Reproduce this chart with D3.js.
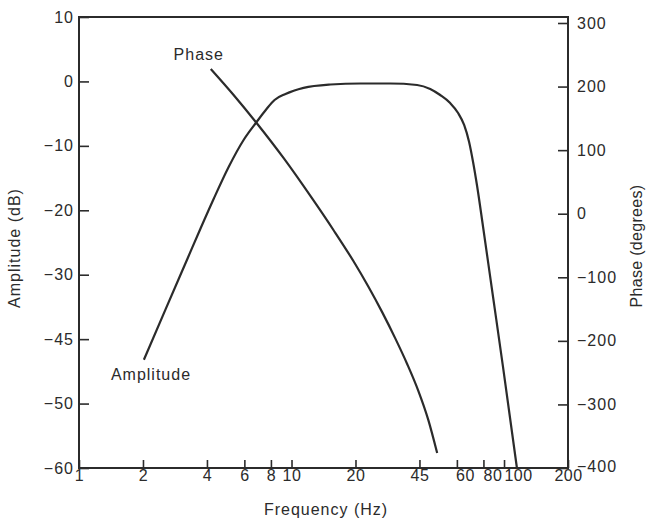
<!DOCTYPE html>
<html>
<head>
<meta charset="utf-8">
<script src="https://cdn.jsdelivr.net/npm/d3@7/dist/d3.min.js"></script>
<style>
  html, body { margin: 0; padding: 0; background: #fff; }
  svg { display: block; }
  text { font-family: "Liberation Sans", Arial, Helvetica, sans-serif; font-size: 16px; fill: #2b2b2b; letter-spacing: 1px; }
</style>
</head>
<body>
<svg id="chart" width="646" height="518"></svg>
<script>
// Frequency response of a band-pass filter: amplitude (left axis) and phase (right axis)

// Frequency ticks (Hz) and their printed labels
const freqTicks = [1, 2, 4, 6, 8, 10, 20, 40, 60, 80, 100, 200];
const freqTickLabels = ["1", "2", "4", "6", "8", "10", "20", "45", "60", "80", "100", "200"];

// Amplitude axis ticks (dB) and labels
const ampTicks = [-60, -50, -40, -30, -20, -10, 0, 10];
const ampTickLabels = ["\u221260", "\u221250", "\u221245", "\u221230", "\u221220", "\u221210", "0", "10"];

// Phase axis ticks (degrees) and labels
const phaseTicks = [-400, -300, -200, -100, 0, 100, 200, 300];
const phaseTickLabels = ["\u2212400", "\u2212300", "\u2212200", "\u2212100", "0", "100", "200", "300"];

// Amplitude curve (Hz, dB)
const ampFreq = [2.02, 2.56, 3.25, 3.74, 4.30, 5.06, 5.95, 6.85, 7.63, 8.32, 9.37, 11.4, 15.25, 21.1, 29.2, 39.0, 44.95, 50.07, 55.79, 60.8, 64.9, 68.5, 71.5, 74.7, 79.7, 88.8, 98.9, 115];
const ampDb   = [-43.2, -35.3, -27.4, -22.75, -18.25, -13.28, -9.09, -6.3, -4.28, -2.88, -1.95, -1.0, -0.48, -0.32, -0.32, -0.55, -1.17, -2.11, -3.35, -4.9, -6.76, -9.4, -12.5, -16.23, -22.59, -33.46, -44.3, -60];

// Phase curve (Hz, degrees)
const phaseFreq = [4.17, 5.34, 6.85, 9.17, 12.55, 15.75, 19.55, 22.98, 26.74, 30.78, 35.05, 39.47, 43.98, 48.46];
const phaseDeg  = [227.7, 186.8, 142.7, 87.7, 23.2, -25.6, -74.4, -114.5, -155.2, -196.1, -236.7, -278.2, -323.9, -376.4];

const svg = d3.select("#chart");
const ink = "#2b2b2b";

const plotLeft = 79, plotRight = 568, plotTop = 17, plotBottom = 468;

const x = d3.scaleLog().domain([1, 200]).range([plotLeft, plotRight]);
const yAmp = d3.scaleLinear().domain([-60, 10]).range([plotBottom, plotTop]);
const yPhase = d3.scaleLinear().domain([-400, 300]).range([plotBottom, plotTop + 6]);

// Plot frame
svg.append("rect")
  .attr("x", plotLeft).attr("y", plotTop)
  .attr("width", plotRight - plotLeft).attr("height", plotBottom - plotTop)
  .attr("fill", "none").attr("stroke", ink).attr("stroke-width", 2);

function styleAxis(g) {
  g.select(".domain").remove();
  g.selectAll(".tick line").attr("stroke", ink).attr("stroke-width", 1.6);
  g.selectAll(".tick text").attr("fill", ink).attr("font-size", null).attr("font-family", null);
}

// Bottom frequency axis, ticks pointing inward
const xAxisG = svg.append("g")
  .attr("transform", `translate(0,${plotBottom})`)
  .call(d3.axisBottom(x)
    .tickValues(freqTicks)
    .tickFormat((d, i) => freqTickLabels[i])
    .tickSizeInner(-8).tickSizeOuter(0).tickPadding(2))
  .call(styleAxis);

// The crowded labels at the top of the decade sit just right of their ticks
const crowdedNudge = { 60: 8, 80: 9, 100: 14 };
xAxisG.selectAll(".tick text")
  .style("letter-spacing", "0.5px")
  .attr("dx", d => crowdedNudge[d] || 0);

// Left amplitude axis
svg.append("g")
  .attr("transform", `translate(${plotLeft},0)`)
  .call(d3.axisLeft(yAmp)
    .tickValues(ampTicks)
    .tickFormat((d, i) => ampTickLabels[i])
    .tickSizeInner(-10).tickSizeOuter(0).tickPadding(5))
  .call(styleAxis);

// Right phase axis
const phaseAxisG = svg.append("g")
  .attr("transform", `translate(${plotRight},0)`)
  .call(d3.axisRight(yPhase)
    .tickValues(phaseTicks)
    .tickFormat((d, i) => phaseTickLabels[i])
    .tickSizeInner(-10).tickSizeOuter(0).tickPadding(9))
  .call(styleAxis);

// Lift the bottom phase label a little off the frequency labels
phaseAxisG.selectAll(".tick text")
  .filter(d => d === -400)
  .attr("y", -2);

// Curves
const ampLine = d3.line()
  .x((d, i) => x(ampFreq[i]))
  .y(d => yAmp(d))
  .curve(d3.curveMonotoneX);

const phaseLine = d3.line()
  .x((d, i) => x(phaseFreq[i]))
  .y(d => yPhase(d))
  .curve(d3.curveMonotoneX);

svg.append("path")
  .attr("d", ampLine(ampDb))
  .attr("fill", "none").attr("stroke", ink).attr("stroke-width", 2.2)
  .attr("stroke-linejoin", "round");

svg.append("path")
  .attr("d", phaseLine(phaseDeg))
  .attr("fill", "none").attr("stroke", ink).attr("stroke-width", 2.2)
  .attr("stroke-linejoin", "round");

// Curve labels near the start of each curve
svg.append("text")
  .attr("x", x(phaseFreq[0]) - 12)
  .attr("y", yPhase(phaseDeg[0]) - 9)
  .attr("text-anchor", "middle")
  .text("Phase");

svg.append("text")
  .attr("x", x(ampFreq[0]) - 33)
  .attr("y", yAmp(ampDb[0]) + 20)
  .text("Amplitude");

// Axis titles
svg.append("text")
  .attr("transform", "translate(326,515)")
  .attr("text-anchor", "middle")
  .text("Frequency (Hz)");

svg.append("text")
  .attr("transform", "translate(20,248) rotate(-90)")
  .attr("text-anchor", "middle")
  .text("Amplitude (dB)");

svg.append("text")
  .attr("transform", "translate(642,246) rotate(-90)")
  .attr("text-anchor", "middle")
  .style("letter-spacing", "0.3px")
  .text("Phase (degrees)");
</script>
</body>
</html>
